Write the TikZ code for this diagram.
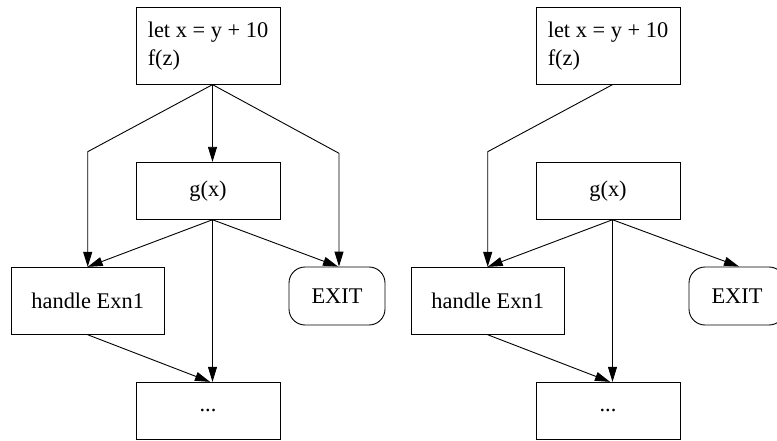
\documentclass[tikz,border=0pt]{standalone}
\usepackage{fontspec}
\setmainfont{Liberation Serif}
\usetikzlibrary{arrows.meta,calc}
\tikzset{
  box/.style={draw, line width=0.9pt, inner sep=0pt, align=left,
    font=\fontsize{22.4}{28}\selectfont},
  exitbox/.style={box, rounded corners=16pt},
  arr/.style={draw, line width=0.9pt, -{Triangle[length=15pt,width=9pt]}},
}
\begin{document}
\begin{tikzpicture}[x=1pt,y=-1pt]
\useasboundingbox (0,0) rectangle (777,441);
% ---------- left graph ----------
\node[box, minimum width=144pt, minimum height=77pt] (topL) at (208,45.7) {let x = y + 10\\f(z)};
\node[box, minimum width=144pt, minimum height=57pt] (gL) at (208,190.8) {g(x)};
\node[box, minimum width=153pt, minimum height=67pt] (hL) at (87.7,300.8) {handle Exn1};
\node[exitbox, minimum width=96pt, minimum height=58pt] (exL) at (337,296) {EXIT};
\node[box, minimum width=144pt, minimum height=57pt] (dL) at (208,410.8) {...};
\coordinate (bL1) at (87.7,151.7);
\coordinate (bL2) at (339,153.3);
\draw[arr] ([xshift=4.5pt]topL.south) -- (bL1) -- (hL.north);
\draw[arr] ([xshift=4.5pt]topL.south) -- ([xshift=4.5pt]gL.north);
\draw[arr] ([xshift=4.5pt]topL.south) -- (bL2) -- ([xshift=2pt]exL.north);
\draw[arr] ([xshift=4.5pt]gL.south) -- (hL.north);
\draw[arr] ([xshift=4.5pt]gL.south) -- ([xshift=1pt]exL.north);
\draw[arr] ([xshift=4.5pt]gL.south) -- ([xshift=4.5pt]dL.north);
\draw[arr] (hL.south) -- ([xshift=2pt]dL.north);
% ---------- right graph ----------
\node[box, minimum width=144pt, minimum height=77pt] (topR) at (608,45.7) {let x = y + 10\\f(z)};
\node[box, minimum width=144pt, minimum height=57pt] (gR) at (608,190.8) {g(x)};
\node[box, minimum width=153pt, minimum height=67pt] (hR) at (487.7,300.8) {handle Exn1};
\node[exitbox, minimum width=96pt, minimum height=58pt] (exR) at (737,296) {EXIT};
\node[box, minimum width=144pt, minimum height=57pt] (dR) at (608,410.8) {...};
\coordinate (bR1) at (487.7,151.7);
\draw[arr] ([xshift=4.5pt]topR.south) -- (bR1) -- (hR.north);
\draw[arr] ([xshift=4.5pt]gR.south) -- (hR.north);
\draw[arr] ([xshift=4.5pt]gR.south) -- ([xshift=2pt]exR.north);
\draw[arr] ([xshift=4.5pt]gR.south) -- ([xshift=4.5pt]dR.north);
\draw[arr] (hR.south) -- ([xshift=2pt]dR.north);
\end{tikzpicture}
\end{document}
